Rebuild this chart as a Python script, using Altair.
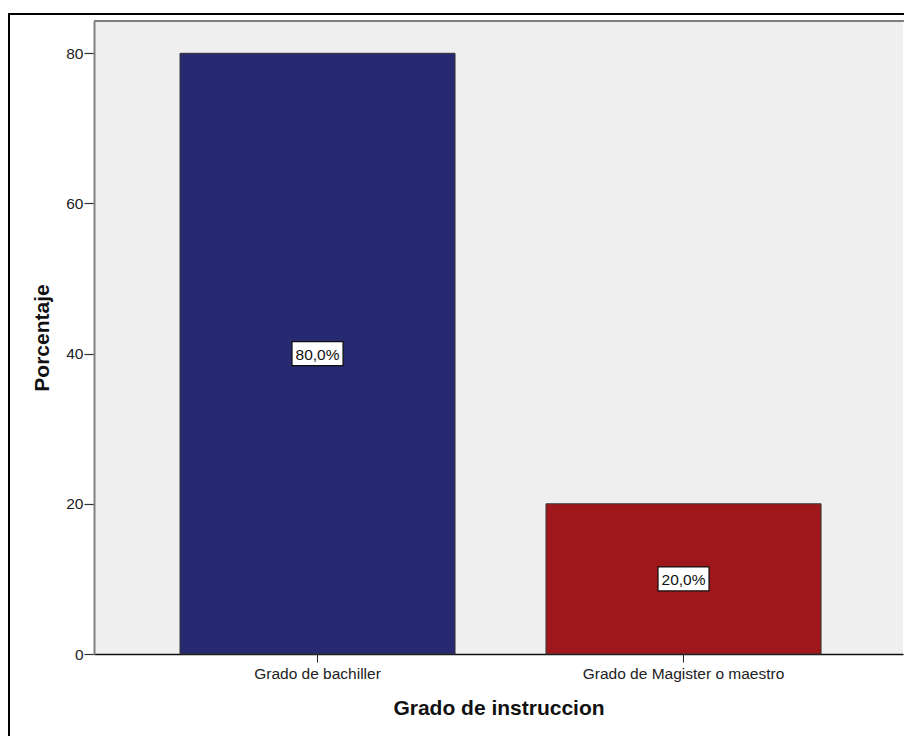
import altair as alt
import pandas as pd

# Education level breakdown (percent of respondents)
categories = ["Grado de bachiller", "Grado de Magister o maestro"]
percentages = [80.0, 20.0]
bar_colors = ["#272A70", "#A0171B"]

df = pd.DataFrame({"grado": categories, "pct": percentages})
df["mid"] = df["pct"] / 2
df["etiqueta"] = [f"{v:.1f}".replace(".", ",") + "%" for v in percentages]

W, H = 809, 633
Y_MAX = 84.3

x_scale = alt.Scale(domain=categories, paddingInner=0.2486, paddingOuter=0.2295, align=0.512)
y_scale = alt.Scale(domain=[0, Y_MAX], nice=False, zero=True)

x_enc = alt.X(
    "grado:N",
    scale=x_scale,
    sort=categories,
    axis=alt.Axis(
        title="Grado de instruccion",
        titleFontSize=21,
        titleFontWeight="bold",
        titleFont="Liberation Sans",
        titleColor="#111111",
        titleX=W / 2,
        titleY=54,
        titleBaseline="middle",
        titleAlign="center",
        labelAngle=0,
        labelFontSize=15.5,
        labelFont="Liberation Sans",
        labelColor="#222222",
        labelPadding=4,
        labelLimit=400,
        tickSize=8,
        tickColor="#222222",
        domainColor="#111111",
        domainWidth=1.5,
    ),
)

y_enc = alt.Y(
    "pct:Q",
    scale=y_scale,
    axis=alt.Axis(
        title="Porcentaje",
        values=[0, 20, 40, 60, 80],
        grid=False,
        titleFontSize=21,
        titleFontWeight="bold",
        titleFont="Liberation Sans",
        titleColor="#111111",
        titleAngle=270,
        titleX=-52,
        titleY=H / 2,
        titleBaseline="middle",
        titleAlign="center",
        labelFontSize=15.5,
        labelFont="Liberation Sans",
        labelColor="#222222",
        labelPadding=1,
        tickSize=10,
        tickColor="#333333",
        tickWidth=1.2,
        domainColor="#808080",
        domainWidth=2,
    ),
)

bars = alt.Chart(df).mark_bar(stroke="#333333", strokeWidth=1).encode(
    x=x_enc,
    y=y_enc,
    color=alt.Color("grado:N", scale=alt.Scale(domain=categories, range=bar_colors), legend=None),
)

# white boxed value labels in the middle of each bar
boxes = alt.Chart(df).mark_point(
    shape="M-1,-0.47L1,-0.47L1,0.47L-1,0.47Z",
    size=2601,
    filled=True,
    fill="white",
    stroke="#111111",
    strokeWidth=1.2,
    opacity=1,
).encode(x=alt.X("grado:N", scale=x_scale, sort=categories), y=alt.Y("mid:Q", scale=y_scale))

labels = alt.Chart(df).mark_text(
    font="Liberation Sans", fontSize=15.5, color="#111111", baseline="middle", dy=1
).encode(x=alt.X("grado:N", scale=x_scale, sort=categories), y=alt.Y("mid:Q", scale=y_scale), text="etiqueta:N")

# grey frame line along the top of the plot area
top_line = alt.Chart(df).mark_rule(color="#808080", strokeWidth=2).encode(
    x=alt.value(0), x2=alt.value(W + 5), y=alt.value(0)
)

# black outer frame around the whole figure
frame = alt.Chart(df).mark_rect(
    fill=None, stroke="#000000", strokeWidth=2, clip=False
).encode(x=alt.value(-85), x2=alt.value(W + 20), y=alt.value(-7), y2=alt.value(H + 120))

chart = alt.layer(bars, top_line, boxes, labels, frame).properties(
    width=W,
    height=H,
    padding={"left": 94, "top": 21, "right": 1, "bottom": 82},
    autosize=alt.AutoSizeParams(type="none"),
    background="white",
).configure_view(
    fill="#EFEFEF", stroke=None
)

chart.save("out.html", embed_options={"renderer": "svg", "actions": False})
